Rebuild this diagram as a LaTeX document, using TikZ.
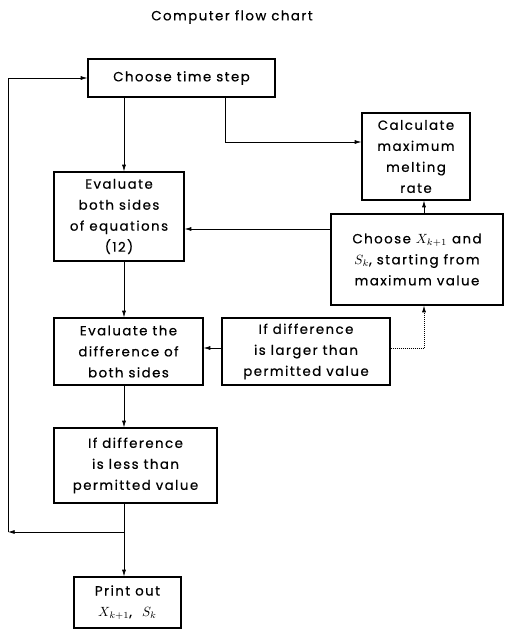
\documentclass[tikz,border=0pt]{standalone}
\usepackage{fontspec}
\setmainfont[LetterSpace=11,FakeBold=0.6]{Poppins}
\usetikzlibrary{arrows.meta}

\begin{document}
\begin{tikzpicture}[x=0.75pt,y=-0.75pt,font=\fontsize{10}{15.75}\selectfont,
  box/.style={draw,line width=0.9pt,align=center,inner sep=0pt},
  link/.style={line width=0.5pt,-{Latex[length=5pt,width=3pt]}}]
  \useasboundingbox (0,0) rectangle (504,629);
  \node (title) at (232,17) {Computer flow chart};

  % Boxes
  \node[box,minimum width=140.25pt,minimum height=28.5pt] (step) at (181.5,78)
    {Choose time step};
  \node[box,minimum width=81pt,minimum height=65.25pt] (calc) at (416,156.5)
    {Calculate\\maximum\\melting\\rate};
  \node[box,minimum width=97.5pt,minimum height=66.75pt] (evalb) at (119,216.5)
    {Evaluate\\both sides\\of equations\\(12)};
  \node[box,minimum width=129pt,minimum height=68.25pt] (choosex) at (417,259.5)
    {Choose $X_{k+1}$ and\\$S_k$, starting from\\maximum value};
  \node[box,minimum width=111.75pt,minimum height=50.25pt] (evald) at (128.5,351.5)
    {Evaluate the\\difference of\\both sides};
  \node[box,minimum width=126pt,minimum height=50.25pt] (larger) at (306,351.5)
    {If difference\\is larger than\\permitted value};
  \node[box,minimum width=122.25pt,minimum height=56.25pt] (less) at (135.5,465.5)
    {If difference\\is less than\\permitted value};
  \node[box,minimum width=80.25pt,minimum height=38.25pt] (print) at (127.5,602.5)
    {Print out\\$X_{k+1}$,\ \ $S_k$};

  % Turning points
  \coordinate (spine) at (124,0);
  \coordinate (branch) at (225,142);
  \coordinate (back) at (0,229);
  \coordinate (rise) at (424,348);
  \coordinate (joint) at (124,532);
  \coordinate (corner) at (8,532);

  % Main column
  \draw[link] (step.south -| spine) -- (evalb.north -| spine);
  \draw[link] (evalb.south -| spine) -- (evald.north -| spine);
  \draw[link] (evald.south -| spine) -- (less.north -| spine);
  \draw[link] (less.south -| spine) -- (print.north -| spine);

  % Side branch
  \draw[link] (step.south -| branch) -- (branch) -- (branch -| calc.west);
  \draw[link] (choosex.north -| rise) -- (calc.south -| rise);
  \draw[link] (choosex.west |- back) -- (evalb.east |- back);
  \draw[link] (larger.west |- rise) -- (evald.east |- rise);
  \draw[link,densely dotted] (larger.east |- rise) -- (rise) -- (choosex.south -| rise);

  % Loop back
  \draw[link] (joint) -- (corner);
  \draw[link] (corner) |- (step.west);
\end{tikzpicture}
\end{document}
